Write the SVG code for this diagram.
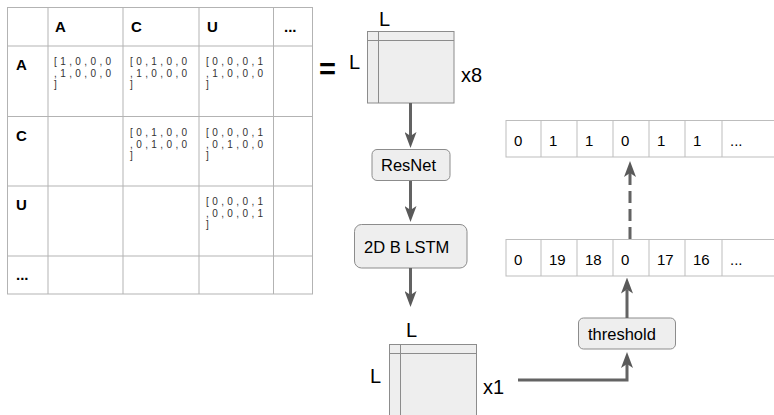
<svg xmlns="http://www.w3.org/2000/svg" width="774" height="415" viewBox="0 0 774 415">
  <style>
    text { font-family: "Liberation Sans", Arial, sans-serif; fill: #000; }
    .grid { stroke: #b3b3b3; stroke-width: 1; fill: none; }
    .hdr { font-size: 15px; font-weight: bold; }
    .vec { font-size: 10px; letter-spacing: 3.4px; fill: #333; }
    .mat { fill: #eeeeee; stroke: #8c8c8c; stroke-width: 1; }
    .matline { stroke: #8c8c8c; stroke-width: 1; fill: none; }
    .dim { font-size: 20px; }
    .box { fill: #eeeeee; stroke: #8c8c8c; stroke-width: 1; }
    .lbl { font-size: 16.5px; }
    .cell { stroke: #bdbdbd; stroke-width: 1; fill: #fff; }
    .num { font-size: 15px; }
    .edge { stroke: #636363; stroke-width: 3; fill: none; }
    .dashed { stroke-dasharray: 12 6; }
  </style>
  <defs>
    <marker id="arrow" markerUnits="userSpaceOnUse" viewBox="0 0 16 12" markerWidth="16" markerHeight="12" refX="4" refY="6" orient="auto">
      <path d="M0,0 L16,6 L0,12 L4,6 Z" fill="#595959"/>
    </marker>
  </defs>

  <!-- pair table -->
  <g id="pair-table">
    <rect x="7.5" y="7.5" width="305" height="286.5" fill="#fff" class="grid"/>
    <path class="grid" d="M48,7.5 V294 M123,7.5 V294 M199,7.5 V294 M273.5,7.5 V294 M7.5,46 H312.5 M7.5,116.5 H312.5 M7.5,186 H312.5 M7.5,256 H312.5"/>
    <text class="hdr" x="55" y="32">A</text>
    <text class="hdr" x="131" y="32">C</text>
    <text class="hdr" x="207" y="32">U</text>
    <text class="hdr" x="284" y="32">...</text>
    <text class="hdr" x="16" y="70">A</text>
    <text class="hdr" x="16" y="141">C</text>
    <text class="hdr" x="16" y="210">U</text>
    <text class="hdr" x="16" y="280">...</text>

    <text class="vec" x="54" y="65">[1,0,0,0</text>
    <text class="vec" x="54" y="76.5">,1,0,0,0</text>
    <text class="vec" x="54" y="88">]</text>
    <text class="vec" x="130" y="65">[0,1,0,0</text>
    <text class="vec" x="130" y="76.5">,1,0,0,0</text>
    <text class="vec" x="130" y="88">]</text>
    <text class="vec" x="206" y="65">[0,0,0,1</text>
    <text class="vec" x="206" y="76.5">,1,0,0,0</text>
    <text class="vec" x="206" y="88">]</text>

    <text class="vec" x="130" y="136">[0,1,0,0</text>
    <text class="vec" x="130" y="147.5">,0,1,0,0</text>
    <text class="vec" x="130" y="159">]</text>
    <text class="vec" x="206" y="136">[0,0,0,1</text>
    <text class="vec" x="206" y="147.5">,0,1,0,0</text>
    <text class="vec" x="206" y="159">]</text>

    <text class="vec" x="206" y="205">[0,0,0,1</text>
    <text class="vec" x="206" y="216.5">,0,0,0,1</text>
    <text class="vec" x="206" y="228">]</text>
  </g>

  <g id="equals">
    <text x="319" y="79" font-size="29" font-weight="bold">=</text>
  </g>

  <!-- L x L input feature stack -->
  <g id="input-matrix">
    <rect class="mat" x="367.5" y="31.5" width="86.5" height="71.5"/>
    <path class="matline" d="M378.5,31.5 V103 M367.5,40.5 H454"/>
    <text class="dim" x="379" y="26">L</text>
    <text class="dim" x="349" y="69">L</text>
    <text class="dim" x="461" y="82">x8</text>
  </g>

  <g id="resnet">
    <rect class="box" x="372" y="149.5" width="78" height="31" rx="5"/>
    <text class="lbl" x="381" y="170.5">ResNet</text>
  </g>

  <g id="lstm">
    <rect class="box" x="354.5" y="224.5" width="112.5" height="43.5" rx="7"/>
    <text class="lbl" x="364" y="253">2D B LSTM</text>
  </g>

  <!-- L x L output map -->
  <g id="output-matrix">
    <rect class="mat" x="389.5" y="344.5" width="87" height="80"/>
    <path class="matline" d="M400.5,344.5 V425 M389.5,353.5 H476.5"/>
    <text class="dim" x="406" y="337">L</text>
    <text class="dim" x="370" y="383">L</text>
    <text class="dim" x="483" y="394">x1</text>
  </g>

  <g id="threshold">
    <rect class="box" x="578.5" y="318" width="97" height="31" rx="5"/>
    <text class="lbl" x="588" y="340">threshold</text>
  </g>

  <!-- per-position scores -->
  <g id="score-row">
    <rect class="cell" x="506" y="239.5" width="275" height="36.5"/>
    <path class="cell" d="M541,239.5 V276 M577,239.5 V276 M613,239.5 V276 M649,239.5 V276 M685,239.5 V276 M722,239.5 V276"/>
    <text class="num" x="514" y="265">0</text>
    <text class="num" x="549" y="265">19</text>
    <text class="num" x="585" y="265">18</text>
    <text class="num" x="621" y="265">0</text>
    <text class="num" x="657" y="265">17</text>
    <text class="num" x="693" y="265">16</text>
    <text class="num" x="730" y="265">...</text>
  </g>

  <!-- binary labels -->
  <g id="binary-row">
    <rect class="cell" x="506" y="120.5" width="275" height="36.5"/>
    <path class="cell" d="M541,120.5 V157 M577,120.5 V157 M613,120.5 V157 M649,120.5 V157 M685,120.5 V157 M722,120.5 V157"/>
    <text class="num" x="514" y="146">0</text>
    <text class="num" x="549" y="146">1</text>
    <text class="num" x="585" y="146">1</text>
    <text class="num" x="621" y="146">0</text>
    <text class="num" x="657" y="146">1</text>
    <text class="num" x="693" y="146">1</text>
    <text class="num" x="730" y="146">...</text>
  </g>

  <g id="connectors">
    <path class="edge" d="M410.5,103 V136" marker-end="url(#arrow)"/>
    <path class="edge" d="M410.5,181 V210" marker-end="url(#arrow)"/>
    <path class="edge" d="M410.5,268 V295" marker-end="url(#arrow)"/>
    <path class="edge" d="M518,380 H627 V364" marker-end="url(#arrow)"/>
    <path class="edge" d="M627,318 V289.5" marker-end="url(#arrow)"/>
    <path class="edge dashed" d="M630,239 V173" marker-end="url(#arrow)"/>
  </g>
</svg>
